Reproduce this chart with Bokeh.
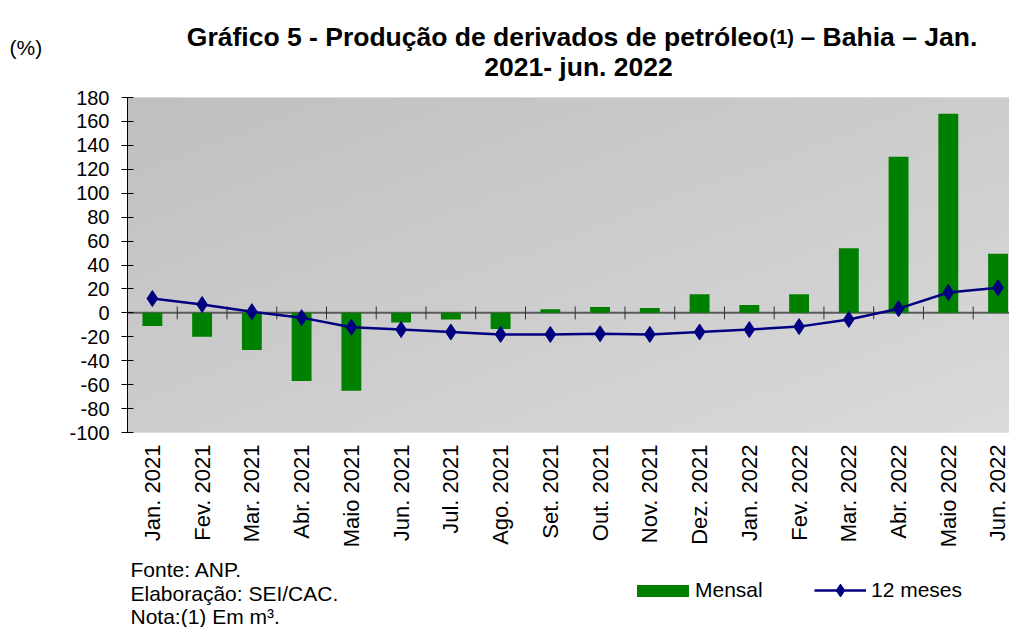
import math
import numpy as np
from bokeh.plotting import figure
from bokeh.layouts import column
from bokeh.models import Range1d, FixedTicker, Span, Label, Legend, LegendItem
from bokeh.embed import file_html
from bokeh.resources import INLINE

# ---------------- data ----------------
months = ["Jan. 2021", "Fev. 2021", "Mar. 2021", "Abr. 2021", "Maio 2021", "Jun. 2021",
          "Jul. 2021", "Ago. 2021", "Set. 2021", "Out. 2021", "Nov. 2021", "Dez. 2021",
          "Jan. 2022", "Fev. 2022", "Mar. 2022", "Abr. 2022", "Maio 2022", "Jun. 2022"]
mensal = [-11, -20, -31, -57, -65, -8, -5.5, -13.5, 3, 5, 4, 15.5,
          6.5, 15.5, 54, 130.5, 166.5, 49.5]
doze_meses = [12, 7, 1, -4, -12, -14, -16, -18, -18, -17.5, -18, -16,
              -14, -11.5, -5.5, 3.5, 17, 21]
y_ticks = list(range(-100, 181, 20))

title_main = "Gráfico 5 - Produção de derivados de petróleo"
title_note = "(1)"
title_tail = "– Bahia – Jan."
title_line2 = "2021- jun. 2022"
unit_label = "(%)"
footnotes = ["Fonte: ANP.", "Elaboração: SEI/CAC.", "Nota:(1) Em m³."]
series_names = ["Mensal", "12 meses"]

# ---------------- layout ----------------
W = 1009
TOP_H = 85          # title strip
BT = 12             # room above the frame for the top tick label
MAIN_H = 465        # plot incl. x labels
BOT_H = 627 - TOP_H - MAIN_H
BL, BB = 127, 116
X_START, X_END = -0.5, 17.23
Y_START, Y_END = -100, 180
FONT = "Liberation Sans"
GREEN = "#008000"
NAVY = "#000080"


def blank(h):
    f = figure(width=W, height=h, x_range=Range1d(0, W), y_range=Range1d(h, 0),
               x_axis_type=None, y_axis_type=None, output_backend="svg",
               toolbar_location=None, min_border=0, frame_align=False)
    f.outline_line_color = None
    f.xgrid.visible = False
    f.ygrid.visible = False
    return f


# ---------- title strip ----------
top = blank(TOP_H)
for txt, xx_, size, align in [(title_main, 768, "26.5px", "right"),
                              (title_note, 769, "20px", "left"),
                              (title_tail, 800, "26.5px", "left")]:
    top.add_layout(Label(x=xx_, y=36, text=txt, text_align=align, text_baseline="alphabetic",
                         text_font=FONT, text_font_size=size, text_font_style="bold",
                         text_color="black"))
top.add_layout(Label(x=578, y=66, text=title_line2, text_align="center",
                     text_baseline="alphabetic", text_font=FONT, text_font_size="26.5px",
                     text_font_style="bold", text_color="black"))
top.add_layout(Label(x=9, y=47, text=unit_label, text_align="left", text_baseline="middle",
                     text_font=FONT, text_font_size="21px", text_color="black"))

# ---------- main chart ----------
x = list(range(len(months)))
p = figure(width=W, height=MAIN_H, x_range=Range1d(X_START, X_END),
           y_range=Range1d(Y_START, Y_END), output_backend="svg", toolbar_location=None,
           min_border_left=BL, min_border_right=0, min_border_top=BT, min_border_bottom=BB,
           frame_align=False)
p.outline_line_color = None
p.xgrid.visible = False
p.ygrid.visible = False
p.background_fill_color = "#cacaca"

ny, nx = 64, 128
yy, xx = np.mgrid[0:ny, 0:nx]
u = xx / (nx - 1)
w = 1 - yy / (ny - 1)          # row 0 is the bottom of the image
g = (192 + 26 * (u + w) / 2).astype(np.uint8)
img = np.empty((ny, nx), dtype=np.uint32)
view = img.view(dtype=np.uint8).reshape((ny, nx, 4))
view[..., 0] = g
view[..., 1] = g
view[..., 2] = g
view[..., 3] = 255
p.image_rgba(image=[img], x=X_START, y=Y_START, dw=X_END - X_START, dh=Y_END - Y_START,
             level="image")

p.add_layout(Span(location=0, dimension="width", line_color="#5a5a5a", line_width=2,
                  level="underlay"))

bars = p.vbar(x=x, top=mensal, bottom=0, width=0.4, fill_color=GREEN, line_color=None)

frame_h = MAIN_H - BB - BT
tick_len = 6.5 * (Y_END - Y_START) / frame_h
bounds = [i + 0.5 for i in x]
p.segment(x0=bounds, y0=[-tick_len] * len(bounds), x1=bounds, y1=[tick_len] * len(bounds),
          line_color="#333333", line_width=1)

p.line(x, doze_meses, line_color=NAVY, line_width=2.5)
p.scatter(x, doze_meses, marker="diamond", size=16, fill_color=NAVY, line_color=NAVY)

p.xaxis.ticker = FixedTicker(ticks=x)
p.xaxis.major_label_overrides = {i: m for i, m in enumerate(months)}
p.xaxis.major_label_orientation = math.pi / 2
p.xaxis.axis_line_color = None
p.xaxis.major_tick_line_color = None
p.xaxis.minor_tick_line_color = None
p.xaxis.major_tick_out = 0
p.xaxis.major_tick_in = 0
p.xaxis.major_label_standoff = 12
p.xaxis.major_label_text_font = FONT
p.xaxis.major_label_text_font_size = "22px"
p.xaxis.major_label_text_color = "black"

p.yaxis.ticker = FixedTicker(ticks=y_ticks)
p.yaxis.major_label_overrides = {t: str(t) for t in y_ticks}
p.yaxis.axis_line_color = "black"
p.yaxis.major_tick_line_color = "black"
p.yaxis.major_tick_in = 6
p.yaxis.major_tick_out = 6
p.yaxis.minor_tick_line_color = None
p.yaxis.major_label_standoff = 12
p.yaxis.major_label_text_font = FONT
p.yaxis.major_label_text_font_size = "20px"
p.yaxis.major_label_text_color = "black"

# ---------- footer: notes + legend ----------
bot = blank(BOT_H)
for txt, py in zip(footnotes, [19, 43, 66]):
    bot.add_layout(Label(x=130, y=py, text=txt, text_align="left", text_baseline="middle",
                         text_font=FONT, text_font_size="21px", text_color="black"))

# legend swatches: renderers styled like the series, with one point kept off-canvas
off = [-1000]
leg_bar = bot.vbar(x=off, top=[0], bottom=[0], width=1, fill_color=GREEN, line_color=None)
leg_line = bot.line(x=off, y=[0], line_color=NAVY, line_width=2.5)
leg_pts = bot.scatter(x=off, y=[0], marker="diamond", size=16, fill_color=NAVY, line_color=NAVY)

common = dict(orientation="horizontal", padding=0, margin=0, border_line_color=None,
              background_fill_alpha=0, label_text_font=FONT, label_text_font_size="21px",
              label_text_color="black")
legend1 = Legend(items=[LegendItem(label=series_names[0], renderers=[leg_bar])],
                 location=(630, BOT_H - 52), glyph_width=65, glyph_height=15,
                 label_standoff=0, **common)
legend2 = Legend(items=[LegendItem(label=series_names[1], renderers=[leg_line, leg_pts])],
                 location=(814, BOT_H - 56), glyph_width=52, glyph_height=32,
                 label_standoff=5, **common)
bot.add_layout(legend1)
bot.add_layout(legend2)

layout = column(top, p, bot, spacing=0)
open("out.html", "w").write(file_html(layout, INLINE))
